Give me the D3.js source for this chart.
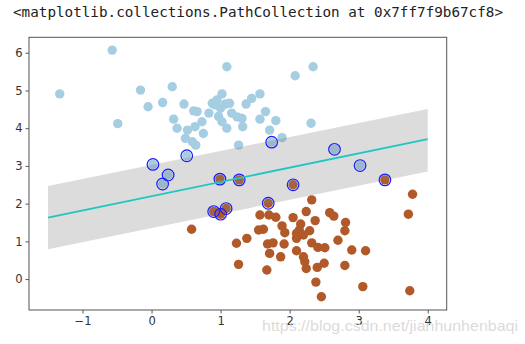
<!DOCTYPE html>
<html>
<head>
<meta charset="utf-8">
<script src="https://cdn.jsdelivr.net/npm/d3@7"></script>
<style>
  html, body { margin: 0; padding: 0; background: #fff; }
  svg { display: block; }
</style>
</head>
<body>
<svg id="chart" width="525" height="344"></svg>
<script>
// Class 0 (light blue) samples
const class0 = [
  [-1.33, 4.91], [-0.57, 6.07], [-0.49, 4.12], [-0.16, 5.01], [-0.05, 4.57],
  [0.16, 4.68], [0.30, 5.10], [0.47, 4.64], [0.61, 4.46], [0.66, 4.44],
  [0.32, 4.24], [0.37, 4.00], [0.52, 3.95], [0.49, 3.73], [0.59, 3.64],
  [0.64, 3.55], [0.75, 3.86], [0.63, 4.04], [0.73, 4.17], [0.83, 4.40],
  [0.88, 4.66], [0.95, 4.75], [1.02, 4.91], [0.92, 4.62], [1.00, 4.53],
  [1.07, 4.64], [1.13, 4.66], [0.97, 4.31], [1.02, 4.17], [1.09, 4.00],
  [1.16, 4.40], [1.24, 4.30], [1.31, 4.26], [1.32, 4.04], [1.37, 4.64],
  [1.45, 4.79], [1.57, 4.91], [1.65, 4.44], [1.57, 4.24], [1.80, 4.20],
  [1.71, 3.95], [1.26, 3.55], [1.09, 5.63], [2.08, 5.39], [2.34, 5.63],
  [1.89, 3.75], [2.31, 4.13]
];
// Class 0 support vectors
const class0SV = [
  [0.02, 3.04], [0.24, 2.76], [0.16, 2.52], [0.51, 3.27],
  [1.74, 3.63], [2.65, 3.44], [3.02, 3.01]
];
// Class 1 (brown) samples
const class1 = [
  [0.58, 1.32], [1.23, 0.95], [1.38, 1.08], [2.32, 2.10], [2.24, 1.79],
  [2.58, 1.76], [2.64, 1.67], [1.57, 1.70], [1.70, 1.70], [1.80, 1.64],
  [2.05, 1.63], [2.37, 1.55], [1.89, 1.41], [2.16, 1.46], [2.81, 1.50],
  [1.55, 1.30], [1.62, 1.32], [1.93, 1.23], [2.14, 1.30], [2.29, 1.28],
  [2.80, 1.28], [2.10, 1.08], [2.20, 1.17], [2.70, 1.03], [1.68, 0.93],
  [1.76, 0.96], [1.92, 0.93], [2.32, 0.96], [2.41, 0.84], [2.51, 0.83],
  [1.71, 0.68], [2.10, 0.75], [2.20, 0.59], [2.90, 0.77], [3.10, 0.75],
  [1.87, 0.59], [2.22, 0.46], [2.50, 0.42], [2.40, 0.31], [2.24, 0.28],
  [1.26, 0.39], [1.67, 0.24], [2.80, 0.36], [2.38, -0.08], [2.46, -0.47],
  [3.06, -0.20], [3.74, -0.31], [3.78, 2.25], [3.72, 1.72], [2.10, 1.21]
];
// Class 1 support vectors
const class1SV = [
  [0.99, 2.65], [1.27, 2.63], [0.90, 1.79], [1.00, 1.72], [1.08, 1.87],
  [2.05, 2.50], [1.69, 2.01], [3.38, 2.63]
];
// Decision boundary and margin band, sampled at the ends of the x range
const boundaryX = [-1.5, 4.0];
const boundaryY = [1.63, 3.71];
const marginUpper = [2.47, 4.51];
const marginLower = [0.79, 2.85];

const xTicks = [-1, 0, 1, 2, 3, 4];
const yTicks = [0, 1, 2, 3, 4, 5, 6];

const titleText = "<matplotlib.collections.PathCollection at 0x7ff7f9b67cf8>";
const watermark = "https://blog.csdn.net/jianhunhenbaqi";

const svg = d3.select("#chart");
const plotLeft = 29, plotRight = 446.7, plotTop = 37.3, plotBottom = 310;

const x = d3.scaleLinear().domain([-1.775, 4.275]).range([plotLeft, plotRight]);
const y = d3.scaleLinear().domain([-0.82, 6.41]).range([plotBottom, plotTop]);

// Output line above the figure
svg.append("text")
  .attr("x", 13).attr("y", 17)
  .attr("font-family", "DejaVu Sans Mono, Liberation Mono, monospace")
  .attr("font-size", 14)
  .attr("textLength", 490)
  .attr("lengthAdjust", "spacingAndGlyphs")
  .attr("fill", "#222")
  .text(titleText);

const plot = svg.append("g");

const colors = { c0: "#a6cee3", c1: "#b15928" };

const allPoints = [
  ...class0.map(d => ({ d, c: colors.c0 })),
  ...class1.map(d => ({ d, c: colors.c1 })),
  ...class0SV.map(d => ({ d, c: colors.c0 })),
  ...class1SV.map(d => ({ d, c: colors.c1 }))
];

plot.selectAll("circle.pt").data(allPoints).join("circle")
  .attr("class", "pt")
  .attr("cx", p => x(p.d[0]))
  .attr("cy", p => y(p.d[1]))
  .attr("r", 4.7)
  .attr("fill", p => p.c);

// Margin band
const bandData = boundaryX.map((bx, i) => ({ x: bx, lo: marginLower[i], hi: marginUpper[i] }));
plot.append("path")
  .datum(bandData)
  .attr("d", d3.area().x(d => x(d.x)).y0(d => y(d.lo)).y1(d => y(d.hi)))
  .attr("fill", "#808080")
  .attr("fill-opacity", 0.28);

// Support vector rings
plot.selectAll("circle.sv").data([...class0SV, ...class1SV]).join("circle")
  .attr("class", "sv")
  .attr("cx", d => x(d[0]))
  .attr("cy", d => y(d[1]))
  .attr("r", 5.8)
  .attr("fill", "none")
  .attr("stroke", "#1a1aff")
  .attr("stroke-width", 1.2);

// Decision boundary
plot.append("path")
  .datum(boundaryX.map((bx, i) => [bx, boundaryY[i]]))
  .attr("d", d3.line().x(d => x(d[0])).y(d => y(d[1])))
  .attr("fill", "none")
  .attr("stroke", "#1fc6c2")
  .attr("stroke-width", 1.8);

// Axes
const xAxis = svg.append("g")
  .attr("transform", `translate(0,${plotBottom})`)
  .call(d3.axisBottom(x).tickValues(xTicks).tickSize(3.5).tickPadding(3)
    .tickFormat(d => d < 0 ? "\u2212" + Math.abs(d) : String(d)));
const yAxis = svg.append("g")
  .attr("transform", `translate(${plotLeft},0)`)
  .call(d3.axisLeft(y).tickValues(yTicks).tickSize(3.5).tickPadding(3));

[xAxis, yAxis].forEach(g => {
  g.select(".domain").remove();
  g.selectAll(".tick line").attr("stroke", "#444").attr("stroke-width", 0.9);
  g.selectAll(".tick text")
    .attr("font-family", "DejaVu Sans, sans-serif")
    .attr("font-size", 11.5)
    .attr("fill", "#333");
});

// Frame
svg.append("rect")
  .attr("x", plotLeft).attr("y", plotTop)
  .attr("width", plotRight - plotLeft).attr("height", plotBottom - plotTop)
  .attr("fill", "none")
  .attr("stroke", "#555")
  .attr("stroke-width", 1);

// Blog watermark
svg.append("text")
  .attr("x", 262).attr("y", 331)
  .attr("font-family", "Liberation Sans, Arial, sans-serif")
  .attr("font-size", 15)
  .attr("textLength", 256)
  .attr("lengthAdjust", "spacingAndGlyphs")
  .attr("fill", "#d4d4d4")
  .attr("fill-opacity", 0.85)
  .text(watermark);
</script>
</body>
</html>
